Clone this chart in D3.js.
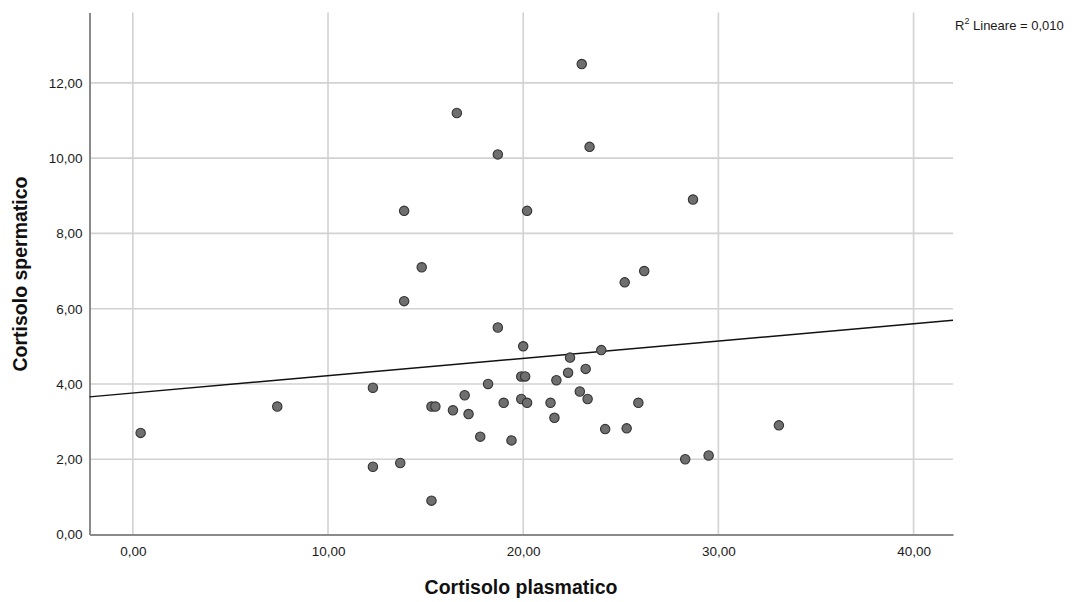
<!DOCTYPE html>
<html>
<head>
<meta charset="utf-8">
<script src="https://cdn.jsdelivr.net/npm/d3@7"></script>
<style>
    body { margin: 0; background: #fff; }
    svg { display: block; font-family: "Liberation Sans", Arial, sans-serif; }
</style>
</head>
<body>
<div id="chart"></div>
<script>
// Cortisolo plasmatico (x) / spermatico (y)
var plasma = [0.4, 7.4, 12.3, 12.3, 13.7, 13.9, 13.9, 14.8, 15.3, 15.5,
    15.3, 16.4, 16.6, 17.0, 17.2, 17.8, 18.2, 18.7, 18.7, 19.0,
    19.4, 20.0, 19.9, 20.1, 19.9, 20.2, 20.2, 21.4, 21.6, 21.7,
    22.3, 22.4, 22.9, 23.0, 23.2, 23.3, 23.4, 24.0, 24.2, 25.2,
    25.3, 25.9, 26.2, 28.3, 28.7, 29.5, 33.1],
    sperm = [2.7, 3.4, 3.9, 1.8, 1.9, 8.6, 6.2, 7.1, 3.4, 3.4,
    0.9, 3.3, 11.2, 3.7, 3.2, 2.6, 4.0, 5.5, 10.1, 3.5,
    2.5, 5.0, 4.2, 4.2, 3.6, 3.5, 8.6, 3.5, 3.1, 4.1,
    4.3, 4.7, 3.8, 12.5, 4.4, 3.6, 10.3, 4.9, 2.8, 6.7,
    2.82, 3.5, 7.0, 2.0, 8.9, 2.1, 2.9],
    xTicks = [0, 10, 20, 30, 40],
    yTicks = [0, 2, 4, 6, 8, 10, 12],
    fit = { intercept: 3.76, slope: 0.046 },
    r2Label = '0,010';

var width = 1075, height = 602,
    plotLeft = 89.5, plotRight = 953, plotTop = 12.5, plotBottom = 534.5;

var fmt = d => d3.format('.2f')(d).replace('.', ',');

var x = d3.scaleLinear().domain([-2.22, 42.02]).range([plotLeft, plotRight]);
var y = d3.scaleLinear().domain([0, 13.87]).range([plotBottom, plotTop]);

var svg = d3.select('#chart').append('svg')
    .attr('width', width)
    .attr('height', height);

// Grid
svg.append('g')
    .selectAll('line')
    .data(xTicks)
    .enter().append('line')
    .attr('x1', d => x(d)).attr('x2', d => x(d))
    .attr('y1', plotTop).attr('y2', plotBottom)
    .attr('stroke', '#d2d2d2').attr('stroke-width', 1.6);

svg.append('g')
    .selectAll('line')
    .data(yTicks.filter(d => d > 0))
    .enter().append('line')
    .attr('x1', plotLeft).attr('x2', plotRight)
    .attr('y1', d => y(d)).attr('y2', d => y(d))
    .attr('stroke', '#d2d2d2').attr('stroke-width', 1.6);

// Axes
let xAxis = svg.append('g')
    .attr('transform', 'translate(0,' + plotBottom + ')')
    .call(d3.axisBottom(x).tickValues(xTicks).tickFormat(fmt).tickSize(0).tickPadding(12));
let yAxis = svg.append('g')
    .attr('transform', 'translate(' + plotLeft + ',0)')
    .call(d3.axisLeft(y).tickValues(yTicks).tickFormat(fmt).tickSize(0).tickPadding(7));

[xAxis, yAxis].forEach(a => {
    a.select('.domain').attr('stroke', '#8a8a8a').attr('stroke-width', 2);
    a.selectAll('text')
        .attr('fill', '#1a1a1a')
        .style('font-size', '13.5px')
        .style('font-family', '"Liberation Sans", Arial, sans-serif');
});

// Fit line
svg.append('line')
    .attr('x1', x(x.domain()[0]))
    .attr('y1', y(fit.intercept + fit.slope * x.domain()[0]))
    .attr('x2', x(x.domain()[1]))
    .attr('y2', y(fit.intercept + fit.slope * x.domain()[1]))
    .attr('stroke', '#111')
    .attr('stroke-width', 1.4);

// Points
svg.append('g')
    .selectAll('circle')
    .data(plasma.map((p, i) => [p, sperm[i]]))
    .enter().append('circle')
    .attr('cx', d => x(d[0]))
    .attr('cy', d => y(d[1]))
    .attr('r', 4.7)
    .attr('fill', '#6f6f6f')
    .attr('stroke', '#333')
    .attr('stroke-width', 1.1);

// Titles
svg.append('text')
    .attr('x', 521)
    .attr('y', 594)
    .attr('text-anchor', 'middle')
    .style('font-size', '19.5px')
    .style('font-weight', 'bold')
    .attr('fill', '#111')
    .text('Cortisolo plasmatico');

svg.append('text')
    .attr('transform', 'translate(27,274) rotate(-90)')
    .attr('text-anchor', 'middle')
    .style('font-size', '19.5px')
    .style('font-weight', 'bold')
    .attr('fill', '#111')
    .text('Cortisolo spermatico');

let r2 = svg.append('text')
    .attr('x', 955)
    .attr('y', 30)
    .style('font-size', '13px')
    .attr('fill', '#1a1a1a');
r2.append('tspan').text('R');
r2.append('tspan').attr('dy', -6).style('font-size', '9px').text('2');
r2.append('tspan').attr('dy', 6).text(' Lineare = ' + r2Label);
</script>
</body>
</html>
